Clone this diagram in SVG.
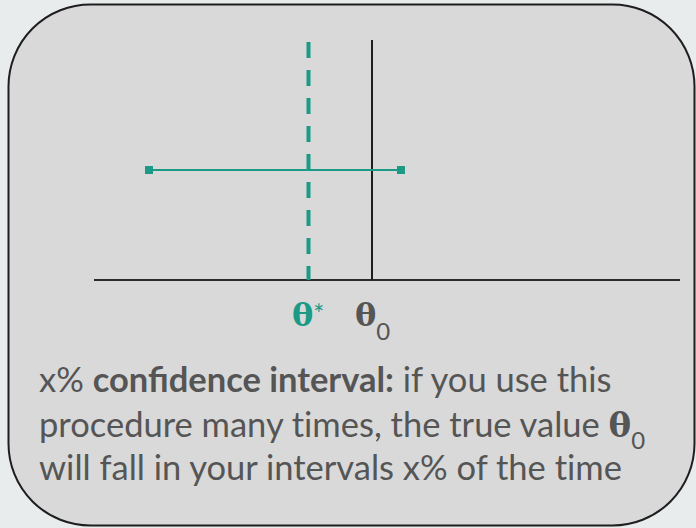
<svg xmlns="http://www.w3.org/2000/svg" width="696" height="528" viewBox="0 0 696 528">
<style>
.txt{font-family:Lato,"Liberation Sans",sans-serif;font-size:34.5px;fill:#555555}
.nolig{font-variant-ligatures:none}
.greek{font-family:"DejaVu Serif","Liberation Serif",serif;font-weight:bold}
.sub{font-family:Lato,"Liberation Sans",sans-serif;font-weight:normal}
.teal{fill:#1b9a86}
</style>
<defs>
<marker id="sq" markerWidth="10" markerHeight="10" refX="5" refY="5" markerUnits="userSpaceOnUse"><rect x="1" y="1" width="8" height="8" fill="#1b9a86"/></marker>
</defs>
<rect width="696" height="528" fill="#e8eced"/>
<g id="box"><rect x="8.5" y="4.5" width="686" height="521" rx="82" fill="#d9d9d9" stroke="#1e1e1e" stroke-width="2"/></g>
<g id="connectors">
<line x1="94" y1="280" x2="680" y2="280" stroke="#2a2a2a" stroke-width="2"/>
<line x1="372" y1="40" x2="372" y2="280" stroke="#1e1e1e" stroke-width="2"/>
<line x1="308.5" y1="42" x2="308.5" y2="280" stroke="#1b9a86" stroke-width="4" stroke-dasharray="16 12"/>
<line x1="149" y1="170" x2="401" y2="170" stroke="#1b9a86" stroke-width="2" marker-start="url(#sq)" marker-end="url(#sq)"/>
</g>
<g id="labels">
<text x="292" y="326" class="greek teal" font-size="32">θ<tspan class="sub" font-size="26" dy="-2">*</tspan></text>
<text x="355" y="326" class="greek" font-size="32" fill="#555555">θ<tspan class="sub" font-size="24" dy="14">0</tspan></text>
</g>
<g id="caption">
<text class="txt" x="39" y="392">x% <tspan font-weight="bold">confidence interval:</tspan> if you use this</text>
<text class="txt nolig" x="39" y="437">procedure many times, the true value <tspan class="greek" font-size="34">θ</tspan><tspan font-size="24" dy="12">0</tspan></text>
<text class="txt nolig" x="39" y="480">will fall in your intervals x% of the time</text>
</g>
</svg>
